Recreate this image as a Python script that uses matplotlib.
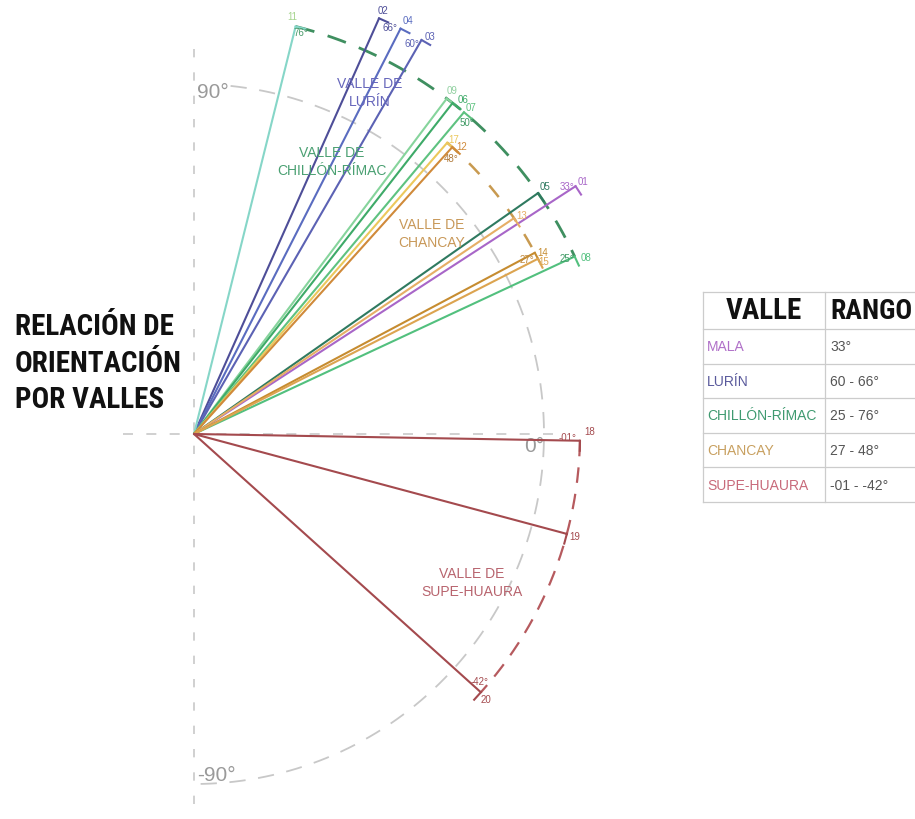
import os
import numpy as np
import matplotlib
matplotlib.use("Agg")
import matplotlib.pyplot as plt
import matplotlib.font_manager as fm

# ---------------- data ----------------
line_ids = ["01", "02", "04", "03", "11", "09", "06", "07", "05", "08",
            "17", "12", "13", "14", "15", "18", "19", "20"]
line_valley = ["MALA", "LURÍN", "LURÍN", "LURÍN",
               "CHILLÓN-RÍMAC", "CHILLÓN-RÍMAC", "CHILLÓN-RÍMAC", "CHILLÓN-RÍMAC",
               "CHILLÓN-RÍMAC", "CHILLÓN-RÍMAC",
               "CHANCAY", "CHANCAY", "CHANCAY", "CHANCAY", "CHANCAY",
               "SUPE-HUAURA", "SUPE-HUAURA", "SUPE-HUAURA"]
line_angle = [33, 66, 63, 60, 76, 53, 52, 50, 35, 25,
              49, 48, 34, 28, 27, -1, -15, -42]
degree_labels = {"01": "33°", "02": "66°", "03": "60°", "11": "76°", "07": "50°",
                 "08": "25°", "12": "48°", "15": "27°", "18": "-01°", "20": "-42°"}

table_valles = ["MALA", "LURÍN", "CHILLÓN-RÍMAC", "CHANCAY", "SUPE-HUAURA"]
table_rangos = ["33°", "60 - 66°", "25 - 76°", "27 - 48°", "-01 - -42°"]

title_lines = ["RELACIÓN DE", "ORIENTACIÓN", "POR VALLES"]
valley_titles = {"LURÍN": "VALLE DE\nLURÍN", "CHILLÓN-RÍMAC": "VALLE DE\nCHILLÓN-RÍMAC",
                 "CHANCAY": "VALLE DE\nCHANCAY", "SUPE-HUAURA": "VALLE DE\nSUPE-HUAURA"}

# ---------------- style ----------------
OX, OY = 194, 435
R_GRID = 350
valley_radius = {"MALA": 455, "LURÍN": 455, "CHILLÓN-RÍMAC": 420,
                 "CHANCAY": 386, "SUPE-HUAURA": 386}
line_color = {"01": "#a866c8", "02": "#4e4e98", "04": "#5a6cc0", "03": "#5c62b4",
              "11": "#86d6c8", "09": "#86d49c", "06": "#3eaa68", "07": "#5ec280",
              "05": "#2f7a60", "08": "#52c07e", "17": "#ecc85c", "12": "#d08a3a",
              "13": "#e6ae66", "14": "#c68c30", "15": "#dca450",
              "18": "#a44a4e", "19": "#a44a4e", "20": "#a44a4e"}
num_color = dict(line_color)
num_color.update({"11": "#a6d48e", "09": "#90d0a0"})
deg_color = {"01": "#a866c8", "02": "#4e4e98", "03": "#5c62b4", "11": "#4a9a6a",
             "07": "#3e9a64", "08": "#3e9a64", "12": "#b07a3a", "15": "#c08a40",
             "18": "#a44a4e", "20": "#a44a4e"}
num_off = {"01": (7, -5), "02": (4, -8), "04": (7, -9), "03": (8, -4), "11": (-3, -10),
           "09": (5, -9), "06": (10, -4), "07": (7, -5), "05": (7, -7), "08": (11, 0),
           "17": (6, -4), "12": (9, -1), "13": (8, -3), "14": (8, -1), "15": (6, 2),
           "18": (10, -10), "19": (8, 2), "20": (5, 7)}
deg_off = {"01": (-9, 0), "02": (11, 9), "03": (-10, 3), "11": (5, 6), "07": (3, 10),
           "08": (-8, 1), "12": (-1, 11), "15": (-11, 0), "18": (-12, -4), "20": (-1, -11)}
arc_style = {"CHILLÓN-RÍMAC": ("#3f8f60", 2.0, (0, (7, 5))),
             "CHANCAY": ("#c89a50", 1.8, (0, (6, 6))),
             "SUPE-HUAURA": ("#b65a5e", 1.6, (0, (7, 5)))}
valley_label_pos = {"LURÍN": (370, 93), "CHILLÓN-RÍMAC": (332, 162),
                    "CHANCAY": (432, 234), "SUPE-HUAURA": (472, 583)}
valley_label_color = {"LURÍN": "#6666bb", "CHILLÓN-RÍMAC": "#4aa072",
                      "CHANCAY": "#c89858", "SUPE-HUAURA": "#b8646e"}
table_color = {"MALA": "#b070c8", "LURÍN": "#5a5a9c", "CHILLÓN-RÍMAC": "#3f9a70",
               "CHANCAY": "#c8a060", "SUPE-HUAURA": "#c86a7a"}

SANS = ["Liberation Sans", "DejaVu Sans"]
plt.rcParams["font.family"] = SANS


def pick_heavy_condensed():
    prefs = ["notosans-extracondensedblack", "notosans-condensedblack",
             "notosans-extracondensedextrabold", "notosans-condensedextrabold",
             "notosans-extracondensedbold", "notosans-condensedbold",
             "robotocondensed-black", "robotocondensed-bold",
             "opensans-condensedextrabold", "opensans-condensedbold",
             "opensanscondensed-bold", "liberationsansnarrow-bold",
             "dejavusanscondensed-bold"]
    files = {}
    for f in fm.fontManager.ttflist:
        key = os.path.splitext(os.path.basename(f.fname))[0].lower()
        files[key] = f.fname
    for p in prefs:
        if p in files:
            return fm.FontProperties(fname=files[p])
    for key, path in files.items():
        if ("condensed" in key or "narrow" in key) and ("bold" in key or "black" in key):
            return fm.FontProperties(fname=path)
    return fm.FontProperties(family="DejaVu Sans", weight="bold", stretch="condensed")


HEAVY = pick_heavy_condensed()


def pt(r, a):
    t = np.radians(a)
    return OX + r * np.cos(t), OY - r * np.sin(t)


fig = plt.figure(figsize=(9.15, 8.2), dpi=100)
ax = fig.add_axes([0, 0, 1, 1])
ax.set_xlim(0, 915)
ax.set_ylim(820, 0)
ax.axis("off")

grey = "#c8c8c8"
ax.plot([OX, OX], [50, 820], color=grey, lw=1.2, ls=(0, (5, 9)), zorder=1)
ax.plot([123, 556], [OY, OY], color=grey, lw=1.2, ls=(0, (6, 8)), zorder=1)
ang = np.linspace(84, -90, 400)
gx, gy = pt(R_GRID, ang)
ax.plot(gx, gy, color=grey, lw=1.3, ls=(0, (9, 7)), zorder=1)
ax.text(OX + 3, OY - 343, "90°", fontsize=15, color="#9a9a9a", ha="left", va="center")
ax.text(OX + 350, OY + 12, "0°", fontsize=15, color="#9a9a9a", ha="right", va="center")
ax.text(OX + 3, OY + 341, "-90°", fontsize=15, color="#9a9a9a", ha="left", va="center")

for v, (c, lw, ls) in arc_style.items():
    angs = [a for a, vv in zip(line_angle, line_valley) if vv == v]
    aa = np.linspace(max(angs), min(angs), 200)
    x, y = pt(valley_radius[v], aa)
    ax.plot(x, y, color=c, lw=lw, ls=ls, zorder=2)

for lid, v, a in zip(line_ids, line_valley, line_angle):
    r = valley_radius[v]
    ex, ey = pt(r, a)
    c = line_color[lid]
    ax.plot([OX, ex], [OY, ey], color=c, lw=1.5, zorder=3, solid_capstyle="round")
    t = np.radians(a)
    tx, ty = ex + 10 * np.sin(t), ey + 10 * np.cos(t)
    ax.plot([ex, tx], [ey, ty], color=c, lw=1.5, zorder=3)
    dx, dy = num_off[lid]
    ax.text(ex + dx, ey + dy, lid, fontsize=7, color=num_color[lid],
            ha="center", va="center", zorder=4)
    if lid in degree_labels:
        dx, dy = deg_off[lid]
        ax.text(ex + dx, ey + dy, degree_labels[lid], fontsize=7, color=deg_color[lid],
                ha="center", va="center", zorder=4)

for v, txt in valley_titles.items():
    x, y = valley_label_pos[v]
    ax.text(x, y, txt, fontsize=10, color=valley_label_color[v], ha="center",
            va="center", linespacing=1.3, zorder=5)

for txt, y in zip(title_lines, [327, 364, 400]):
    ax.text(15, y, txt, fontproperties=HEAVY, fontsize=21,
            color="#111111", ha="left", va="center")

tl, tdiv, tr = 703, 825, 930
ty0, th_head, th_row = 293, 37, 34.6
rows_y = [ty0, ty0 + th_head] + [ty0 + th_head + th_row * (i + 1) for i in range(len(table_valles))]
tc = "#cccccc"
for y in rows_y:
    ax.plot([tl, tr], [y, y], color=tc, lw=0.9, zorder=1)
ax.plot([tl, tl], [rows_y[0], rows_y[-1]], color=tc, lw=0.9)
ax.plot([tdiv, tdiv], [rows_y[0], rows_y[-1]], color=tc, lw=0.9)
ax.text((tl + tdiv) / 2, ty0 + th_head / 2, "VALLE", fontproperties=HEAVY, fontsize=21,
        color="#111111", ha="center", va="center")
ax.text(tdiv + 5, ty0 + th_head / 2, "RANGO", fontproperties=HEAVY, fontsize=20,
        color="#111111", ha="left", va="center")
for i, (vname, rng) in enumerate(zip(table_valles, table_rangos)):
    yc = rows_y[i + 1] + th_row / 2
    ax.text(tl + 4, yc, vname, fontsize=10, color=table_color[vname], ha="left", va="center")
    ax.text(tdiv + 5, yc, rng, fontsize=10, color="#555555", ha="left", va="center")

fig.savefig("out.png", dpi=100, facecolor="white")
